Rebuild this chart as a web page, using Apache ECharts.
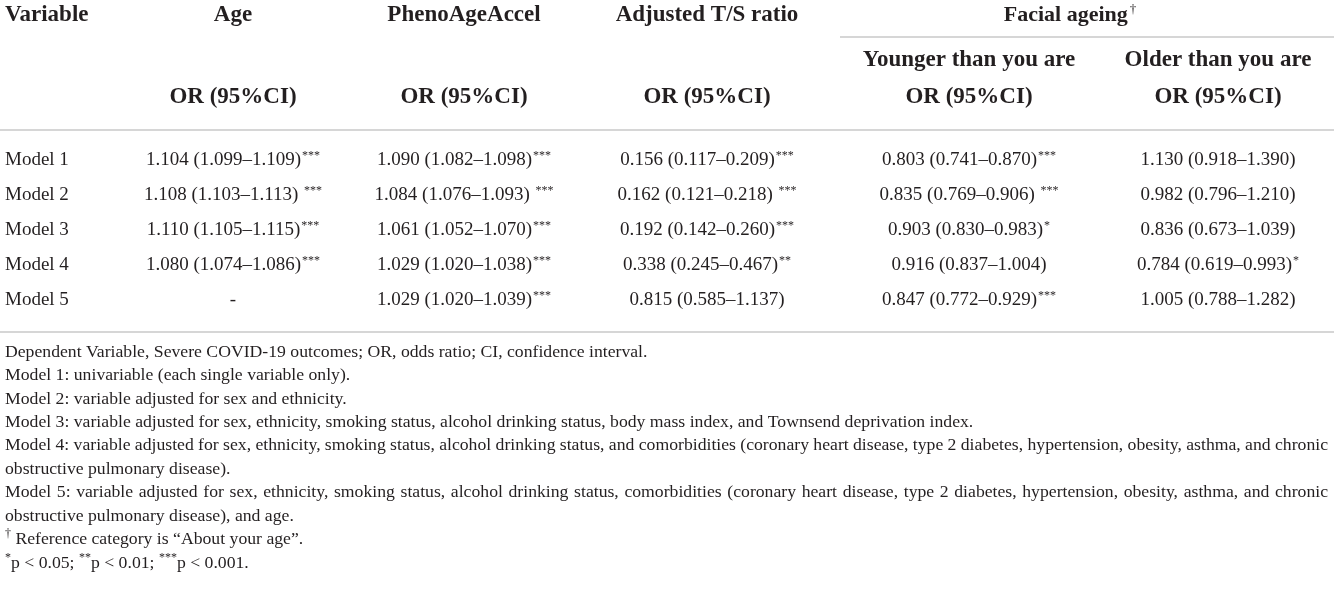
<!DOCTYPE html>
<html>
<head>
<meta charset="utf-8">
<script src="https://cdn.jsdelivr.net/npm/echarts@6/dist/echarts.min.js"></script>
<style>
  html, body { margin: 0; padding: 0; background: #fff; }
  #main { width: 1334px; height: 589px; }
</style>
</head>
<body>
<div id="main"></div>
<script>
// table data
var models = ['Model 1', 'Model 2', 'Model 3', 'Model 4', 'Model 5'];

var ageOR = [[1.104, 1.099, 1.109], [1.108, 1.103, 1.113], [1.110, 1.105, 1.115], [1.080, 1.074, 1.086], null];
var ageSig = ['***', ' ***', '***', '***', ''];

var phenoOR = [[1.090, 1.082, 1.098], [1.084, 1.076, 1.093], [1.061, 1.052, 1.070], [1.029, 1.020, 1.038], [1.029, 1.020, 1.039]];
var phenoSig = ['***', ' ***', '***', '***', '***'];

var tsOR = [[0.156, 0.117, 0.209], [0.162, 0.121, 0.218], [0.192, 0.142, 0.260], [0.338, 0.245, 0.467], [0.815, 0.585, 1.137]];
var tsSig = ['***', ' ***', '***', '**', ''];

var youngerOR = [[0.803, 0.741, 0.870], [0.835, 0.769, 0.906], [0.903, 0.830, 0.983], [0.916, 0.837, 1.004], [0.847, 0.772, 0.929]];
var youngerSig = ['***', ' ***', '*', '', '***'];

var olderOR = [[1.130, 0.918, 1.390], [0.982, 0.796, 1.210], [0.836, 0.673, 1.039], [0.784, 0.619, 0.993], [1.005, 0.788, 1.282]];
var olderSig = ['', '', '', '*', ''];

var headers = ['Variable', 'Age', 'PhenoAgeAccel', 'Adjusted T/S ratio'];
var facialHeader = 'Facial ageing';
var facialSub = ['Younger than you are', 'Older than you are'];
var orLabel = 'OR (95%CI)';

var notes = [
  'Dependent Variable, Severe COVID-19 outcomes; OR, odds ratio; CI, confidence interval.',
  'Model 1: univariable (each single variable only).',
  'Model 2: variable adjusted for sex and ethnicity.',
  'Model 3: variable adjusted for sex, ethnicity, smoking status, alcohol drinking status, body mass index, and Townsend deprivation index.',
  'Model 4: variable adjusted for sex, ethnicity, smoking status, alcohol drinking status, and comorbidities (coronary heart disease, type 2 diabetes, hypertension, obesity, asthma, and chronic',
  'obstructive pulmonary disease).',
  'Model 5: variable adjusted for sex, ethnicity, smoking status, alcohol drinking status, comorbidities (coronary heart disease, type 2 diabetes, hypertension, obesity, asthma, and chronic',
  'obstructive pulmonary disease), and age.'
];
var justified = [4, 6]; // wrapped lines that run to the right margin

// layout
var colX = [5, 233, 464, 707, 969, 1218];
var font = 'Liberation Serif';
var ink = '#231f20';
var rule = '#c8c8c8';
var noteSize = 17.7;
var noteRight = 1328;

var myChart = echarts.init(document.getElementById('main'));

function cellText(v, sig) {
  if (!v) return '{n|-}';
  var s = '{n|' + v[0].toFixed(3) + ' (' + v[1].toFixed(3) + '\u2013' + v[2].toFixed(3) + ')';
  var m = sig.match(/^(\s*)(\**)$/);
  s += m[1] + '}';
  if (m[2]) s += '{s|' + m[2] + '}';
  return s;
}

var rich = {
  n: { fontFamily: font, fontSize: 19, color: ink, lineHeight: 22 },
  s: { fontFamily: font, fontSize: 12, color: ink, lineHeight: 22, verticalAlign: 'top', padding: [1, 0, 0, 1] }
};

function colSeries(col, vals, sigs, align) {
  return {
    type: 'scatter',
    symbolSize: 0,
    silent: true,
    itemStyle: { opacity: 1 },
    data: models.map(function(m, i) {
      return { value: [colX[col], m], text: vals ? cellText(vals[i], sigs[i]) : '{n|' + m + '}' };
    }),
    label: {
      show: true,
      position: align === 'left' ? 'right' : 'inside',
      distance: 0,
      color: ink,
      opacity: 1,
      textBorderWidth: 0,
      formatter: function(p) { return p.data.text; },
      rich: rich
    }
  };
}

var series = [
  colSeries(0, null, null, 'left'),
  colSeries(1, ageOR, ageSig),
  colSeries(2, phenoOR, phenoSig),
  colSeries(3, tsOR, tsSig),
  colSeries(4, youngerOR, youngerSig),
  colSeries(5, olderOR, olderSig)
];

// header texts
var hStyle = { fontFamily: font, fontSize: 23, fontWeight: 'bold', fill: ink };
var graphics = [];
headers.forEach(function(h, i) {
  graphics.push({
    type: 'text', x: colX[i], y: 15,
    style: Object.assign({ text: h, align: i === 0 ? 'left' : 'center', verticalAlign: 'middle' }, hStyle)
  });
  if (i > 0) {
    graphics.push({
      type: 'text', x: colX[i], y: 97,
      style: Object.assign({ text: orLabel, align: 'center', verticalAlign: 'middle' }, hStyle)
    });
  }
});
graphics.push({
  type: 'text', x: 1070, y: 15,
  style: {
    text: '{h|' + facialHeader + '}{d|\u2020}', align: 'center', verticalAlign: 'middle',
    rich: {
      h: { fontFamily: font, fontSize: 22, fontWeight: 'bold', fill: ink, lineHeight: 26 },
      d: { fontFamily: font, fontSize: 13, fill: ink, lineHeight: 26, verticalAlign: 'top', padding: [1, 0, 0, 2] }
    }
  }
});
facialSub.forEach(function(h, i) {
  graphics.push({
    type: 'text', x: colX[4 + i], y: 60,
    style: Object.assign({ text: h, align: 'center', verticalAlign: 'middle' }, hStyle)
  });
  graphics.push({
    type: 'text', x: colX[4 + i], y: 97,
    style: Object.assign({ text: orLabel, align: 'center', verticalAlign: 'middle' }, hStyle)
  });
});

// rules
[[840, 37], [0, 130], [0, 332]].forEach(function(r) {
  graphics.push({
    type: 'line', shape: { x1: r[0], y1: r[1], x2: 1334, y2: r[1] },
    style: { stroke: rule, lineWidth: 1.5 }
  });
});

// footnotes; wrapped lines are justified by widening their spaces
var ctx = document.createElement('canvas').getContext('2d');
ctx.font = noteSize + 'px "' + font + '"';
var noteRich = {
  t: { fontFamily: font, fontSize: noteSize, fill: ink, lineHeight: 23.45 },
  s: { fontFamily: font, fontSize: 12, fill: ink, lineHeight: 23.45, verticalAlign: 'top' }
};
var noteLines = notes.map(function(t, i) {
  if (justified.indexOf(i) < 0) return '{t|' + t + '}';
  var words = t.split(' ');
  var gap = ctx.measureText(' ').width +
    (noteRight - colX[0] - ctx.measureText(t).width) / (words.length - 1);
  noteRich['sp' + i] = { fontFamily: font, fontSize: noteSize, lineHeight: 23.45, width: gap };
  return words.map(function(w) { return '{t|' + w + '}'; }).join('{sp' + i + '| }');
});
var noteText = noteLines.join('\n') +
  '\n{s|\u2020}{t| Reference category is \u201cAbout your age\u201d.}' +
  '\n{s|*}{t|p < 0.05; }{s|**}{t|p < 0.01; }{s|***}{t|p < 0.001.}';
graphics.push({
  type: 'text', x: colX[0], y: 340.3,
  style: { text: noteText, align: 'left', verticalAlign: 'top', rich: noteRich }
});

var option = {
  animation: false,
  grid: { left: 0, right: 0, top: 142.5, height: 175 },
  xAxis: { type: 'value', min: 0, max: 1334, show: false },
  yAxis: { type: 'category', data: models, inverse: true, show: false },
  series: series,
  graphic: graphics
};

myChart.setOption(option);
</script>
</body>
</html>
